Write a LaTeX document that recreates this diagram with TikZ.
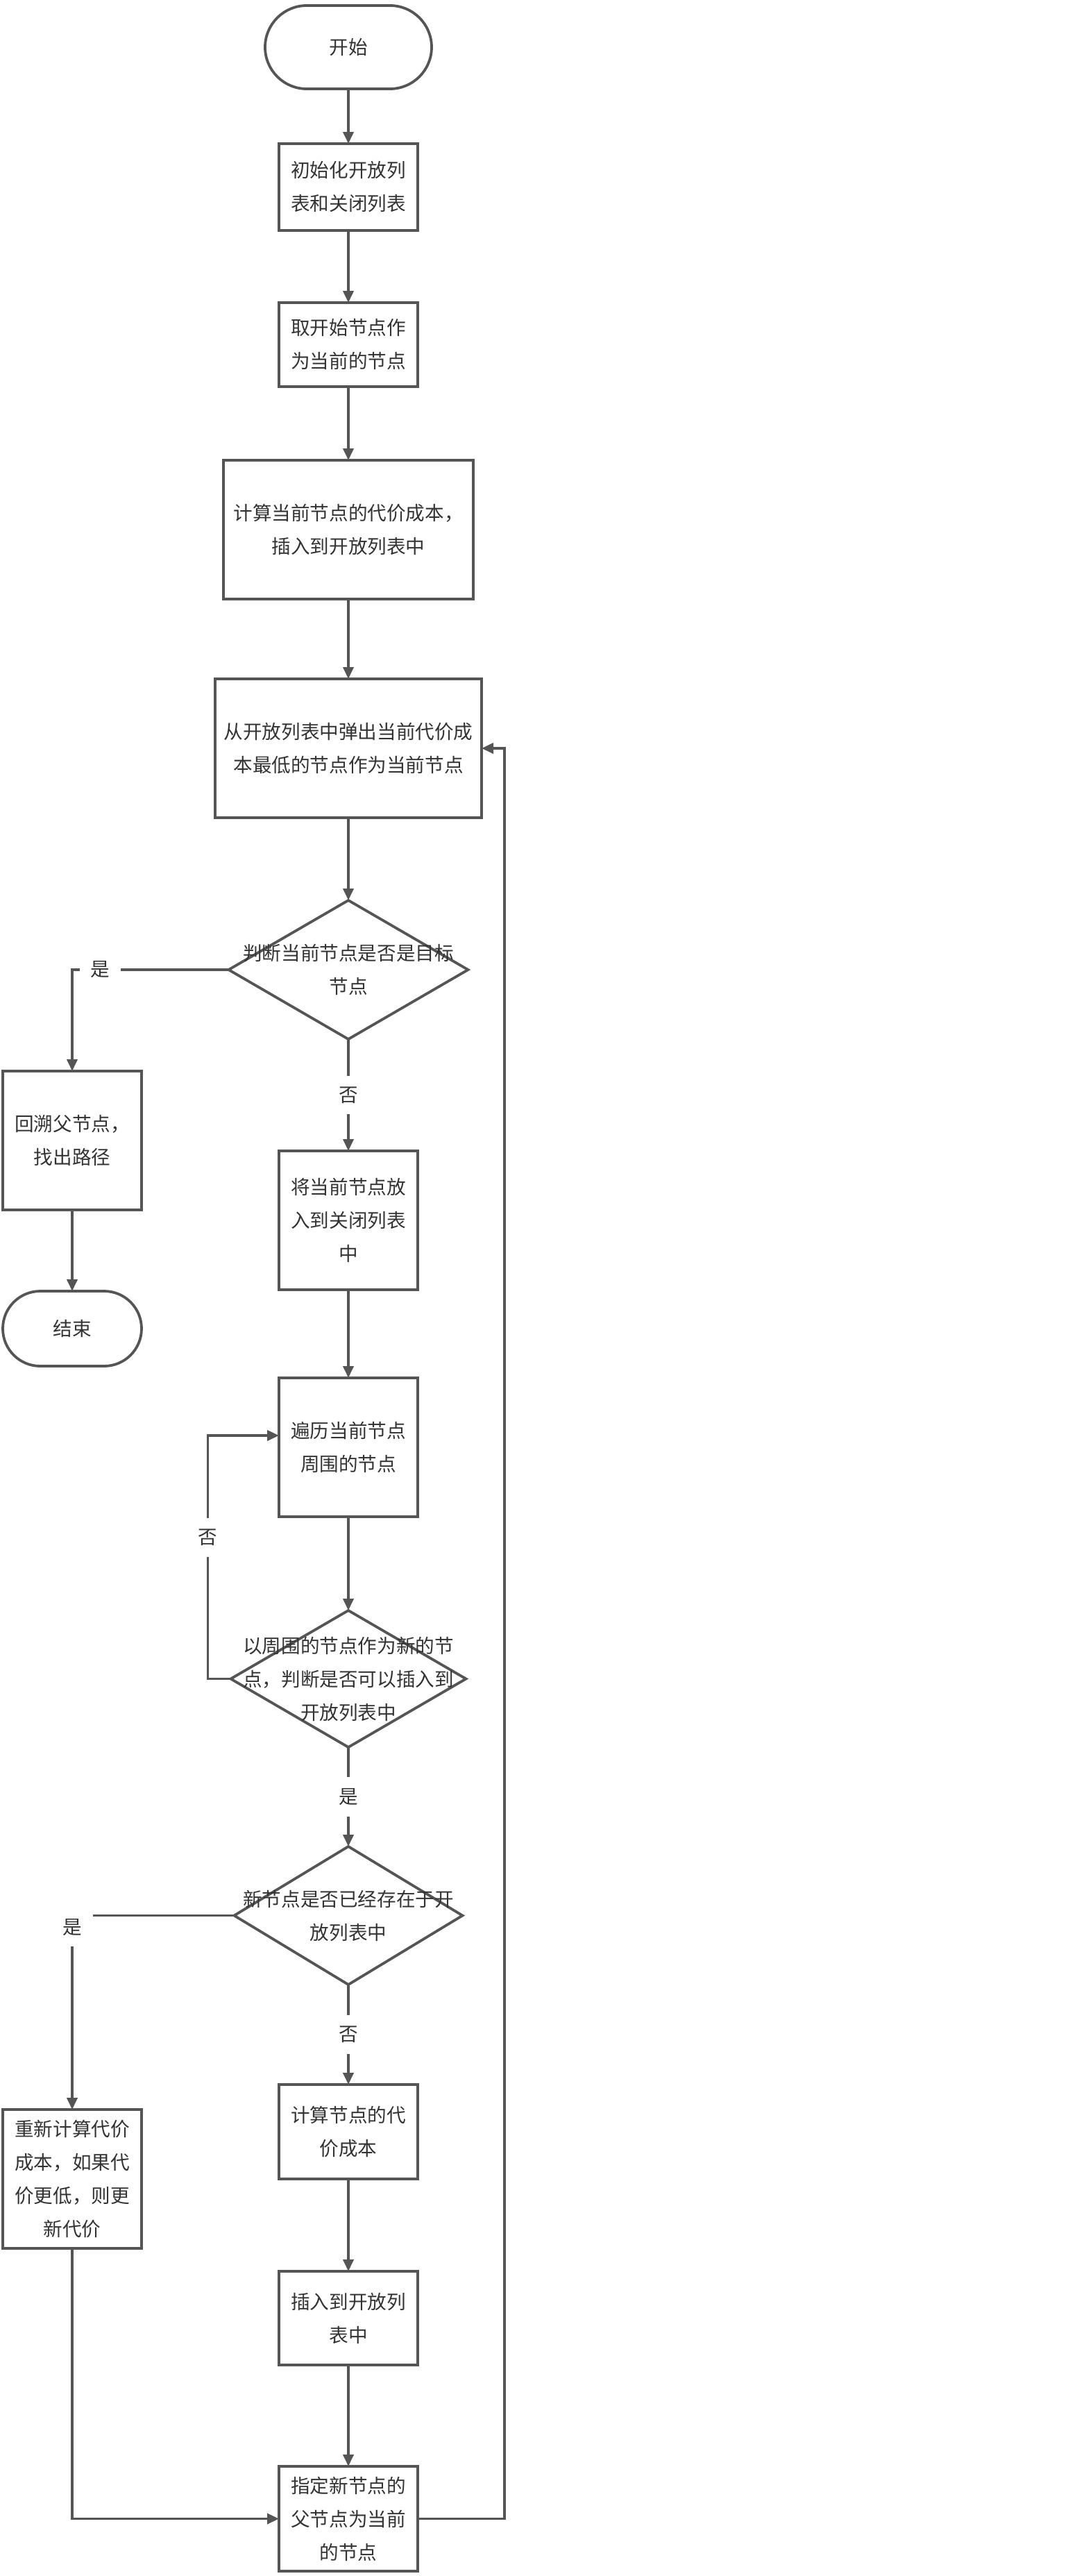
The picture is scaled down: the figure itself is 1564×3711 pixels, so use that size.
\documentclass[tikz,border=0pt]{standalone}
\usepackage{fontspec}
\setmainfont{Noto Sans CJK SC}
\usetikzlibrary{positioning, arrows.meta}
\usetikzlibrary{shapes.geometric}
\definecolor{linegray}{HTML}{555555}
\definecolor{textgray}{HTML}{333333}

\begin{document}
\begin{tikzpicture}[
    x=0.5pt, y=-0.5pt,
    every node/.style={font=\fontsize{13.8pt}{24pt}\selectfont, text=textgray},
    box/.style={draw=linegray, line width=1.9pt, rectangle, minimum width=100pt, minimum height=100pt, align=center, inner sep=2pt, outer sep=0pt},
    term/.style={box, minimum width=120pt, minimum height=60pt, rounded corners=30pt},
    decision/.style={draw=linegray, line width=1.9pt, diamond, inner sep=0pt, outer sep=0pt},
    dtext/.style={align=center, inner sep=0pt},
    arrow/.style={-{Triangle[length=8.5pt, width=7.5pt]}, line width=1.9pt, draw=linegray},
    lbl/.style={fill=white, inner sep=8pt}
]
\useasboundingbox (0,0) rectangle (1564,3711);

% Start
\node[term] (start) at (502,68) {开始};

% Init and first node
\node[box, minimum height=62.5pt, below=39.5pt of start] (init) {初始化开放列\\表和关闭列表};
\node[box, minimum height=60.5pt, below=52pt of init] (take) {取开始节点作\\为当前的节点};
\node[box, minimum width=180pt, below=53pt of take] (cost) {计算当前节点的代价成本，\\插入到开放列表中};
\node[box, minimum width=192pt, below=57.5pt of cost] (pop) {从开放列表中弹出当前代价成\\本最低的节点作为当前节点};

% Goal check
\node[decision, minimum width=172.5pt, minimum height=100pt, below=59.5pt of pop,
      label={[dtext]center:判断当前节点是否是目标\\节点}] (goal) {};
\node[box] (back) at (104,1643) {回溯父节点，\\找出路径};
\node[term, minimum width=100pt, minimum height=54pt, rounded corners=27pt, below=58.5pt of back] (stop) {结束};

% Neighbours
\node[box, below=80.5pt of goal] (close) {将当前节点放\\入到关闭列表\\中};
\node[box, below=63.5pt of close] (trav) {遍历当前节点\\周围的节点};
\node[decision, minimum width=169.5pt, minimum height=98.5pt, below=67.5pt of trav,
      label={[dtext]center:以周围的节点作为新的节\\点，判断是否可以插入到\\开放列表中}] (check) {};
\node[decision, minimum width=164.5pt, minimum height=99.5pt, below=71.5pt of check,
      label={[dtext]center:新节点是否已经存在于开\\放列表中}] (exist) {};

% Update
\node[box] (recalc) at (104,3139) {重新计算代价\\成本，如果代\\价更低，则更\\新代价};
\node[box, minimum height=68pt, below=72pt of exist] (calc) {计算节点的代\\价成本};
\node[box, minimum height=67.5pt, below=66.5pt of calc] (ins) {插入到开放列\\表中};
\node[box, minimum height=75.5pt, below=73pt of ins] (parent) {指定新节点的\\父节点为当前\\的节点};

% Arrows
\draw[arrow] (start) -- (init);
\draw[arrow] (init) -- (take);
\draw[arrow] (take) -- (cost);
\draw[arrow] (cost) -- (pop);
\draw[arrow] (pop) -- (goal);
\draw[arrow] (goal.west) -| node[lbl, pos=0.41]{是} (back.north);
\draw[arrow] (goal) -- node[lbl]{否} (close);
\draw[arrow] (back) -- (stop);
\draw[arrow] (close) -- (trav);
\draw[arrow] (trav) -- (check);
\draw[arrow] (check.west) -- ++(-16.5pt,0) |- node[lbl, pos=0.29]{否} ([yshift=8.5pt]trav.west);
\draw[arrow] (check) -- node[lbl]{是} (exist);
\draw[arrow] (exist.west) -| node[lbl, pos=0.53]{是} (recalc.north);
\draw[arrow] (exist) -- node[lbl]{否} (calc);
\draw[arrow] (calc) -- (ins);
\draw[arrow] (ins) -- (parent);
\draw[arrow] (recalc) |- (parent);
\draw[arrow] (parent.east) -- ++(62.5pt,0) |- (pop.east);

\end{tikzpicture}
\end{document}
